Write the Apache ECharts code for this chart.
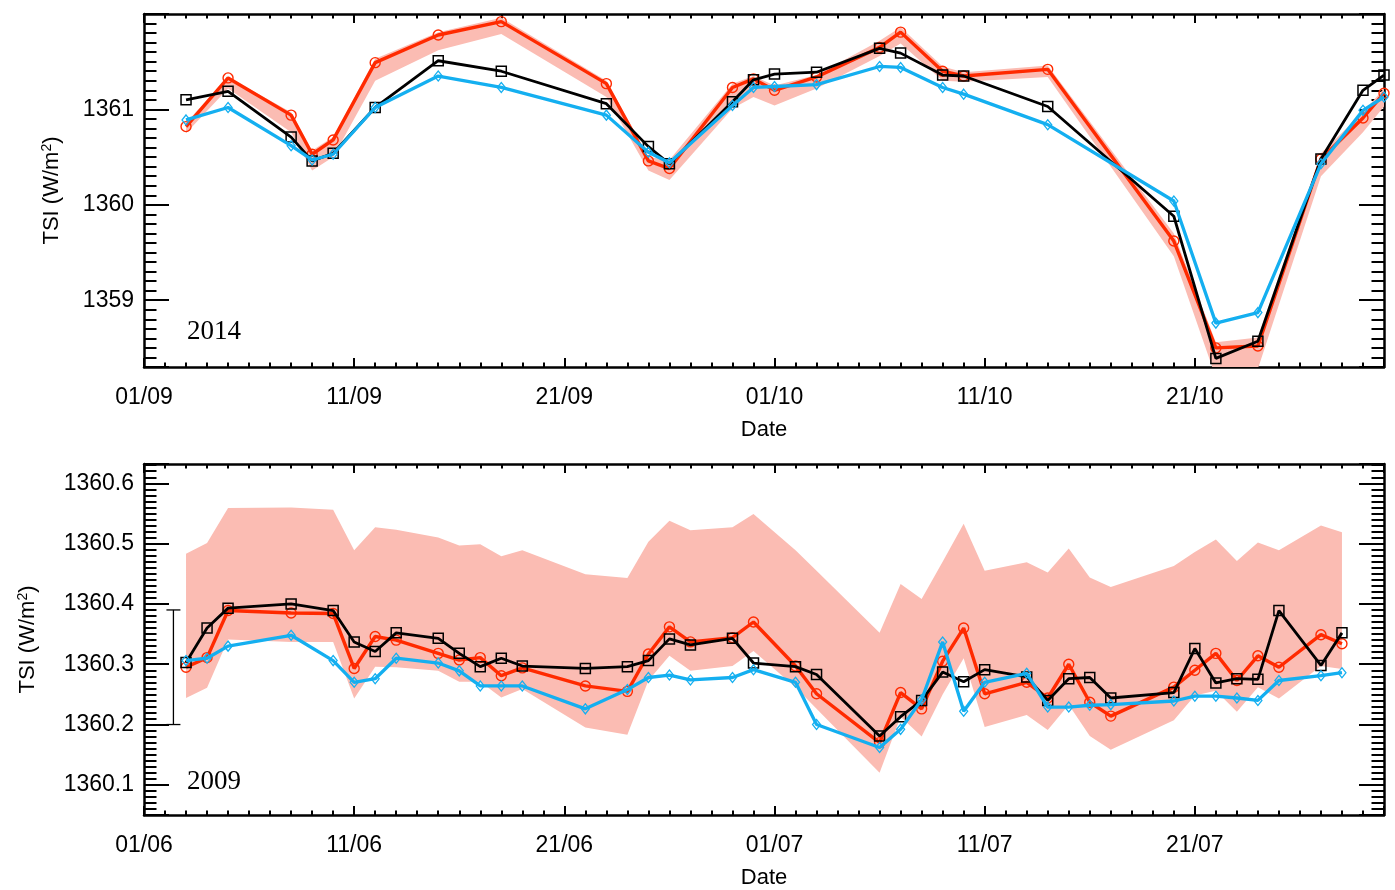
<!DOCTYPE html>
<html><head><meta charset="utf-8">
<script src="https://cdn.jsdelivr.net/npm/echarts@6/dist/echarts.min.js"></script>
<style>html,body{margin:0;padding:0;background:#fff}#c{width:1395px;height:890px}</style>
</head><body><div id="c"></div>
<script>
// ---------- 2014 panel (Sep-Oct) ----------
const start2014 = '2014-09-01';
const dates2014 = ['03/09','05/09','08/09','09/09','10/09','12/09','15/09','18/09','23/09','25/09','26/09','29/09','30/09',
  '01/10','03/10','06/10','07/10','09/10','10/10','14/10','20/10','22/10','24/10','27/10','29/10','30/10'];
const black2014 = [1361.10,1361.19,1360.71,1360.46,1360.54,1361.02,1361.51,1361.40,1361.06,1360.61,1360.43,1361.08,1361.31,
  1361.37,1361.39,1361.64,1361.59,1361.36,1361.35,1361.03,1359.88,1358.39,1358.57,1360.48,1361.20,1361.36];
const red2014 = [1360.82,1361.33,1360.94,1360.53,1360.68,1361.49,1361.78,1361.92,1361.27,1360.46,1360.38,1361.23,1361.32,
  1361.20,1361.34,1361.65,1361.81,1361.40,1361.35,1361.42,1359.62,1358.50,1358.52,1360.48,1360.91,1361.17];
const cyan2014 = [1360.89,1361.02,1360.62,1360.47,1360.53,1361.02,1361.35,1361.23,1360.94,1360.55,1360.44,1361.04,1361.23,
  1361.24,1361.26,1361.45,1361.44,1361.23,1361.16,1360.84,1360.04,1358.76,1358.87,1360.43,1360.99,1361.13];
const bandLow2014 = [1360.75,1361.22,1360.76,1360.36,1360.50,1361.30,1361.62,1361.79,1361.13,1360.36,1360.26,1361.01,1361.13,
  1361.04,1361.22,1361.56,1361.69,1361.30,1361.29,1361.34,1359.46,1358.19,1358.28,1360.30,1360.76,1361.03];
const bandHigh2014 = [1360.86,1361.34,1360.97,1360.57,1360.71,1361.53,1361.81,1361.96,1361.30,1360.50,1360.47,1361.27,1361.35,
  1361.25,1361.36,1361.72,1361.86,1361.45,1361.39,1361.46,1359.70,1358.56,1358.61,1360.54,1360.97,1361.22];

// ---------- 2009 panel (Jun-Jul) ----------
const start2009 = '2009-06-01';
const dates2009 = ['03/06','04/06','05/06','08/06','10/06','11/06','12/06','13/06','15/06','16/06','17/06','18/06','19/06',
  '22/06','24/06','25/06','26/06','27/06','29/06','30/06','02/07','03/07','06/07','07/07','08/07','09/07','10/07','11/07',
  '13/07','14/07','15/07','16/07','17/07','20/07','21/07','22/07','23/07','24/07','25/07','27/07','28/07'];
const black2009 = [1360.303,1360.360,1360.393,1360.400,1360.389,1360.337,1360.321,1360.352,1360.343,1360.318,1360.296,1360.310,1360.297,
  1360.293,1360.296,1360.306,1360.342,1360.332,1360.343,1360.302,1360.296,1360.283,1360.181,1360.213,1360.240,1360.287,1360.271,1360.291,
  1360.279,1360.240,1360.276,1360.278,1360.244,1360.253,1360.326,1360.269,1360.276,1360.275,1360.389,1360.298,1360.352];
const red2009 = [1360.295,1360.311,1360.389,1360.385,1360.384,1360.293,1360.346,1360.340,1360.318,1360.307,1360.311,1360.281,1360.294,
  1360.264,1360.255,1360.317,1360.362,1360.337,1360.344,1360.370,1360.297,1360.251,1360.170,1360.253,1360.226,1360.305,1360.360,1360.251,
  1360.270,1360.244,1360.300,1360.237,1360.214,1360.262,1360.290,1360.318,1360.273,1360.314,1360.295,1360.349,1360.334];
const cyan2009 = [1360.306,1360.310,1360.330,1360.348,1360.306,1360.270,1360.276,1360.310,1360.302,1360.289,1360.264,1360.264,1360.264,
  1360.226,1360.258,1360.278,1360.282,1360.274,1360.278,1360.291,1360.270,1360.200,1360.162,1360.192,1360.241,1360.337,1360.222,1360.270,
  1360.285,1360.229,1360.229,1360.232,1360.233,1360.239,1360.247,1360.247,1360.244,1360.240,1360.273,1360.281,1360.286];
const bandLow2009 = [1360.244,1360.261,1360.341,1360.337,1360.337,1360.243,1360.296,1360.295,1360.289,1360.271,1360.271,1360.245,1360.259,
  1360.195,1360.183,1360.273,1360.314,1360.289,1360.297,1360.322,1360.262,1360.226,1360.120,1360.213,1360.180,1360.250,1360.310,1360.196,
  1360.216,1360.191,1360.233,1360.181,1360.158,1360.207,1360.248,1360.256,1360.221,1360.262,1360.243,1360.297,1360.292];
const bandHigh2009 = [1360.483,1360.501,1360.559,1360.560,1360.556,1360.489,1360.527,1360.523,1360.510,1360.497,1360.499,1360.479,1360.489,
  1360.449,1360.443,1360.503,1360.538,1360.522,1360.527,1360.549,1360.489,1360.455,1360.352,1360.433,1360.408,1360.470,1360.533,1360.455,
  1360.469,1360.452,1360.492,1360.444,1360.428,1360.463,1360.486,1360.507,1360.471,1360.502,1360.489,1360.530,1360.519];
// error bar shown in the 2009 panel: [date, low, high]
const errorBar2009 = [['02/06', 1360.200, 1360.390]];
const errorBarOffset = 0.4; // days after its date

// axis settings
const xSpanDays = 59;
const xTickStepDays = 10;
const yRange2014 = [1358.3, 1362.0];
const yRange2009 = [1360.05, 1360.632];

// ---------- helpers ----------
const DAY = 86400000;
function dayOffset(ddmm, start) {
  const s = new Date(start + 'T00:00:00Z');
  const [d, m] = ddmm.split('/').map(Number);
  const t = Date.UTC(s.getUTCFullYear(), m - 1, d);
  return Math.round((t - s.getTime()) / DAY);
}
function fmtDay(v, start) {
  const s = new Date(start + 'T00:00:00Z');
  const t = new Date(s.getTime() + Math.round(v) * DAY);
  const dd = String(t.getUTCDate()).padStart(2, '0');
  const mm = String(t.getUTCMonth() + 1).padStart(2, '0');
  return dd + '/' + mm;
}
function pairs(dates, vals, start) { return dates.map((d, i) => [dayOffset(d, start), vals[i]]); }

const RED = '#ff2a00', BLACK = '#000000', CYAN = '#14aff0', BAND = '#fbbcb3';
const FONT = 'Liberation Sans';
const FS = 23;

function xAxes(gridIndex, start) {
  const base = {
    type: 'value', gridIndex, min: 0, max: xSpanDays, interval: xTickStepDays,
    splitLine: { show: false },
    axisLine: { show: true, onZero: false, lineStyle: { color: '#000', width: 2.5 } },
    axisTick: { show: true, inside: true, length: 9, lineStyle: { color: '#000', width: 2 } },
    minorTick: { show: true, splitNumber: 10, length: 4.5, lineStyle: { color: '#000', width: 2 } },
    minorSplitLine: { show: false }
  };
  return [
    Object.assign({}, base, {
      position: 'bottom',
      axisLabel: { show: true, margin: 19, fontSize: FS, color: '#000', fontFamily: FONT,
        showMaxLabel: false, formatter: v => fmtDay(v, start) },
      name: 'Date', nameLocation: 'middle', nameGap: 52,
      nameTextStyle: { fontSize: 22, color: '#000', fontFamily: FONT }
    }),
    Object.assign({}, base, { position: 'top', axisLabel: { show: false } })
  ];
}
function yAxes(gridIndex, range, decimals, nameGap) {
  const base = {
    type: 'value', gridIndex, min: range[0], max: range[1], splitNumber: 5, scale: true,
    splitLine: { show: false },
    axisLine: { show: true, onZero: false, lineStyle: { color: '#000', width: 2.5 } },
    axisTick: { show: true, inside: true, length: 25, lineStyle: { color: '#000', width: 2 } },
    minorTick: { show: true, splitNumber: 10, length: 12.5, lineStyle: { color: '#000', width: 2 } },
    minorSplitLine: { show: false }
  };
  return [
    Object.assign({}, base, {
      position: 'left',
      axisLabel: { show: true, margin: 10, fontSize: FS, color: '#000', fontFamily: FONT,
        showMinLabel: false, showMaxLabel: false, formatter: v => v.toFixed(decimals) },
      name: 'TSI (W/m{sup|2})', nameLocation: 'middle', nameGap: nameGap,
      nameTextStyle: { fontSize: 22, color: '#000', fontFamily: FONT,
        rich: { sup: { fontSize: 14, fontFamily: FONT, color: '#000', verticalAlign: 'top', padding: [0, 0, 10, 0] } } }
    }),
    Object.assign({}, base, { position: 'right', axisLabel: { show: false } })
  ];
}

// uncertainty band drawn as one polygon through the axis scales
function bandSeries(xi, yi, start, dates, low, high, tag) {
  const pts = dates.map((d, i) => [dayOffset(d, start), low[i], high[i]]);
  return {
    type: 'custom', name: 'band' + tag, xAxisIndex: xi, yAxisIndex: yi, z: 1, silent: true,
    data: pts,
    renderItem: (params, api) => {
      if (params.dataIndex !== 0) return null;
      const upper = pts.map(p => api.coord([p[0], p[2]]));
      const lower = pts.map(p => api.coord([p[0], p[1]])).reverse();
      const cs = params.coordSys;
      return {
        type: 'polygon',
        shape: { points: upper.concat(lower) },
        style: { fill: BAND, stroke: null },
        clipPath: { type: 'rect', shape: { x: cs.x, y: cs.y, width: cs.width, height: cs.height } }
      };
    }
  };
}

function panelSeries(xi, yi, start, dates, low, high, red, black, cyan, tag) {
  return [
    bandSeries(xi, yi, start, dates, low, high, tag),
    { type: 'line', name: 'red' + tag, xAxisIndex: xi, yAxisIndex: yi, data: pairs(dates, red, start),
      symbol: 'circle', symbolSize: 10, showAllSymbol: true,
      lineStyle: { color: RED, width: 3.4 },
      itemStyle: { color: 'rgba(0,0,0,0)', borderColor: RED, borderWidth: 1.4 }, z: 3 },
    { type: 'line', name: 'black' + tag, xAxisIndex: xi, yAxisIndex: yi, data: pairs(dates, black, start),
      symbol: 'rect', symbolSize: 10, showAllSymbol: true,
      lineStyle: { color: BLACK, width: 2.8 },
      itemStyle: { color: 'rgba(0,0,0,0)', borderColor: BLACK, borderWidth: 1.5 }, z: 4 },
    { type: 'line', name: 'cyan' + tag, xAxisIndex: xi, yAxisIndex: yi, data: pairs(dates, cyan, start),
      symbol: 'diamond', symbolSize: [8, 10], showAllSymbol: true,
      lineStyle: { color: CYAN, width: 3.3 },
      itemStyle: { color: 'rgba(0,0,0,0)', borderColor: CYAN, borderWidth: 1.3 }, z: 5 }
  ];
}

const series = []
  .concat(panelSeries(0, 0, start2014, dates2014, bandLow2014, bandHigh2014, red2014, black2014, cyan2014, '2014'))
  .concat(panelSeries(2, 2, start2009, dates2009, bandLow2009, bandHigh2009, red2009, black2009, cyan2009, '2009'));

series.push({
  type: 'custom', name: 'errorbar', xAxisIndex: 2, yAxisIndex: 2, z: 6, silent: true,
  data: errorBar2009.map(e => [dayOffset(e[0], start2009) + errorBarOffset, e[1], e[2]]),
  renderItem: (params, api) => {
    const x = api.value(0);
    const lo = api.coord([x, api.value(1)]);
    const hi = api.coord([x, api.value(2)]);
    const hw = 7;
    const st = { stroke: '#000', lineWidth: 1.3 };
    return { type: 'group', children: [
      { type: 'line', shape: { x1: lo[0], y1: lo[1], x2: hi[0], y2: hi[1] }, style: st },
      { type: 'line', shape: { x1: lo[0] - hw, y1: lo[1], x2: lo[0] + hw, y2: lo[1] }, style: st },
      { type: 'line', shape: { x1: hi[0] - hw, y1: hi[1], x2: hi[0] + hw, y2: hi[1] }, style: st }
    ] };
  }
});

const chart = echarts.init(document.getElementById('c'), null, { renderer: 'canvas' });
chart.setOption({
  animation: false,
  backgroundColor: '#ffffff',
  grid: [
    { left: 144, top: 14, width: 1240, height: 353, containLabel: false },
    { left: 144, top: 464, width: 1240, height: 353, containLabel: false }
  ],
  xAxis: [].concat(xAxes(0, start2014), xAxes(1, start2009)),
  yAxis: [].concat(yAxes(0, yRange2014, 0, 80), yAxes(1, yRange2009, 1, 104)),
  graphic: [
    { type: 'text', left: 187, top: 318, style: { text: '2014', font: '27px "Liberation Serif"', fill: '#000' } },
    { type: 'text', left: 187, top: 768, style: { text: '2009', font: '27px "Liberation Serif"', fill: '#000' } }
  ],
  series
});
</script>
</body></html>
